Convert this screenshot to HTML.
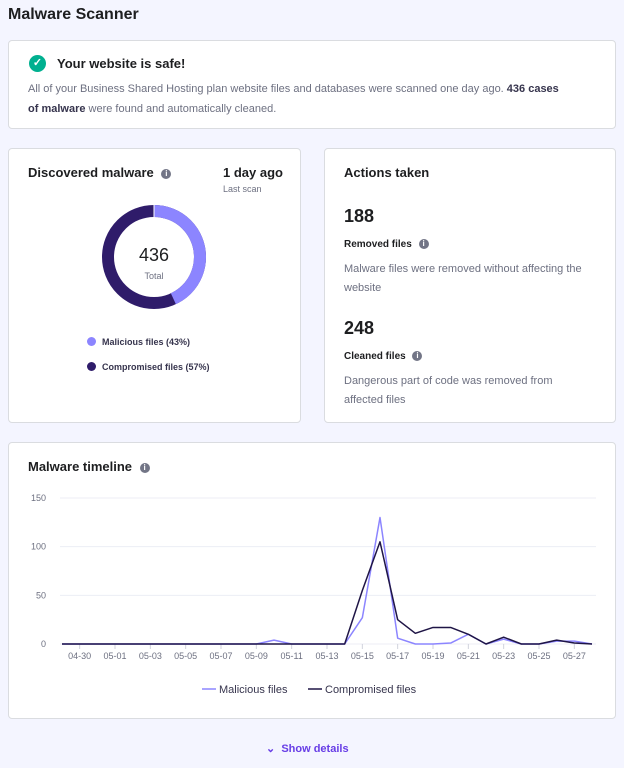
<!DOCTYPE html>
<html><head><meta charset="utf-8"><style>
*{box-sizing:border-box;margin:0;padding:0}
body{width:624px;height:768px;background:#f4f5ff;font-family:"Liberation Sans",sans-serif;color:#1d1e20;position:relative;overflow:hidden}
.abs{position:absolute}
.card{position:absolute;background:#fff;border:1px solid #dadce0;border-radius:4px}
.h{font-size:13px;font-weight:bold;color:#1d1e20}
.g{color:#6d7081}
.info{display:inline-block;width:10px;height:10px;border-radius:50%;background:#727586;color:#fff;font-size:8px;text-align:center;line-height:10px;font-weight:bold;vertical-align:middle}
</style></head><body>
<div class="abs" style="left:8px;top:6px;font-size:16px;font-weight:bold">Malware Scanner</div>

<div class="card" style="left:8px;top:40px;width:608px;height:89px">
 <div class="abs" style="left:20px;top:14px;width:17px;height:17px;border-radius:50%;background:#00b090;color:#fff;font-size:11px;text-align:center;line-height:17px;font-weight:bold">✓</div>
 <div class="abs h" style="left:48px;top:15px">Your website is safe!</div>
 <div class="abs g" style="left:19px;top:38px;width:540px;font-size:11px;line-height:20px">All of your Business Shared Hosting plan website files and databases were scanned one day ago. <b style="color:#36344d">436 cases of malware</b> were found and automatically cleaned.</div>
</div>

<div class="card" style="left:8px;top:148px;width:293px;height:275px">
 <div class="abs h" style="left:19px;top:16px">Discovered malware <span class="info" style="margin-left:4px">i</span></div>
 <div class="abs h" style="left:214px;top:16px">1 day ago</div>
 <div class="abs g" style="left:214px;top:35px;font-size:9px">Last scan</div>
 <svg class="abs" style="left:90px;top:53px" width="110" height="110" viewBox="0 0 110 110">
  <circle cx="55" cy="55" r="46" fill="none" stroke="#2f1c6a" stroke-width="12"/>
  <circle cx="55" cy="55" r="46" fill="none" stroke="#8c85ff" stroke-width="12" stroke-dasharray="124.3 500" transform="rotate(-90 55 55)"/>
  <line x1="55" y1="3" x2="55" y2="15" stroke="#fff" stroke-width="1"/>
  <text x="55" y="59" text-anchor="middle" font-size="18" fill="#1d1e20">436</text>
  <text x="55" y="77" text-anchor="middle" font-size="9" fill="#6d7081">Total</text>
 </svg>
 <div class="abs" style="left:78px;top:188px;font-size:9px;font-weight:bold;color:#36344d"><span style="display:inline-block;width:9px;height:9px;border-radius:50%;background:#8c85ff;margin-right:6px;vertical-align:-1px"></span>Malicious files (43%)</div>
 <div class="abs" style="left:78px;top:213px;font-size:9px;font-weight:bold;color:#36344d"><span style="display:inline-block;width:9px;height:9px;border-radius:50%;background:#2f1c6a;margin-right:6px;vertical-align:-1px"></span>Compromised files (57%)</div>
</div>

<div class="card" style="left:324px;top:148px;width:292px;height:275px">
 <div class="abs h" style="left:19px;top:16px">Actions taken</div>
 <div class="abs" style="left:19px;top:57px;font-size:18px;font-weight:bold">188</div>
 <div class="abs" style="left:19px;top:90px;font-size:10px;font-weight:bold">Removed files <span class="info" style="margin-left:4px">i</span></div>
 <div class="abs g" style="left:19px;top:111px;width:260px;font-size:11px;line-height:19px">Malware files were removed without affecting the website</div>
 <div class="abs" style="left:19px;top:169px;font-size:18px;font-weight:bold">248</div>
 <div class="abs" style="left:19px;top:202px;font-size:10px;font-weight:bold">Cleaned files <span class="info" style="margin-left:4px">i</span></div>
 <div class="abs g" style="left:19px;top:223px;width:235px;font-size:11px;line-height:19px">Dangerous part of code was removed from affected files</div>
</div>

<div class="card" style="left:8px;top:442px;width:608px;height:277px">
 <div class="abs h" style="left:19px;top:16px">Malware timeline <span class="info" style="margin-left:4px">i</span></div>
</div>
<svg class="abs" id="chart" style="left:0;top:0" width="624" height="768"></svg>

<div class="abs" style="left:266px;top:742px;font-size:11px;font-weight:bold;color:#673de6">⌄&nbsp;&nbsp;Show details</div>

<script>
const categories=["04-29","04-30","04-30","05-01","05-02","05-03","05-04","05-05","05-06","05-07","05-08","05-09","05-10","05-11","05-12","05-13","05-14","05-15","05-16","05-17","05-18","05-19","05-20","05-21","05-22","05-23","05-24","05-25","05-26","05-27","05-28"];
const malicious=[0,0,0,0,0,0,0,0,0,0,0,0,4,0,0,0,0,27,130,6,0,0,1,10,0,5,0,0,3,3,0];
const compromised=[0,0,0,0,0,0,0,0,0,0,0,0,0,0,0,0,0,55,105,25,11,17,17,10,0,7,0,0,4,1,0];
const yTicks=[0,50,100,150];
const NS="http://www.w3.org/2000/svg";
const svg=document.getElementById('chart');
const x0=62,x1=592,yb=644,yt=498;
const x=i=>x0+(x1-x0)*i/(categories.length-1);
const y=v=>yb-(yb-yt)*v/150;
function mk(t,a){const e=document.createElementNS(NS,t);for(const k in a)e.setAttribute(k,a[k]);svg.appendChild(e);return e;}
yTicks.forEach(v=>{
 const l=mk('line',{x1:x0-2,x2:x1+4,y1:y(v),y2:y(v),stroke:'#eceef5','stroke-width':1});
 
 
 const t=mk('text',{x:46,y:y(v)+3,'text-anchor':'end','font-size':9,fill:'#6d7081'});
 t.textContent=v;
 
 
});
categories.forEach((c,i)=>{
 if(i%2===1){
  const tk=mk('line',{x1:x(i),x2:x(i),y1:yb,y2:yb+5,stroke:'#d0d2dc'});
  
  
  const t=mk('text',{x:x(i),y:yb+15,'text-anchor':'middle','font-size':9,fill:'#6d7081'});
  t.textContent=c;
  
  
 }
});
function line(vals,color,name){
 const p=mk('polyline',{points:vals.map((v,i)=>x(i)+','+y(v)).join(' '),fill:'none',stroke:color,'stroke-width':1.5,'stroke-linejoin':'round'});
 
 
}
line(malicious,'#8c85ff','malicious-line');
line(compromised,'#1f1546','compromised-line');
const lg=[['Malicious files','#8c85ff',202],['Compromised files','#1f1546',308]];
lg.forEach(([n,c,lx])=>{
 const l=mk('line',{x1:lx,x2:lx+14,y1:689,y2:689,stroke:c,'stroke-width':1.5});
 
 
 const t=mk('text',{x:lx+17,y:693,'font-size':11,fill:'#36344d'});
 t.textContent=n;
 
 
});
</script>
</body></html>
